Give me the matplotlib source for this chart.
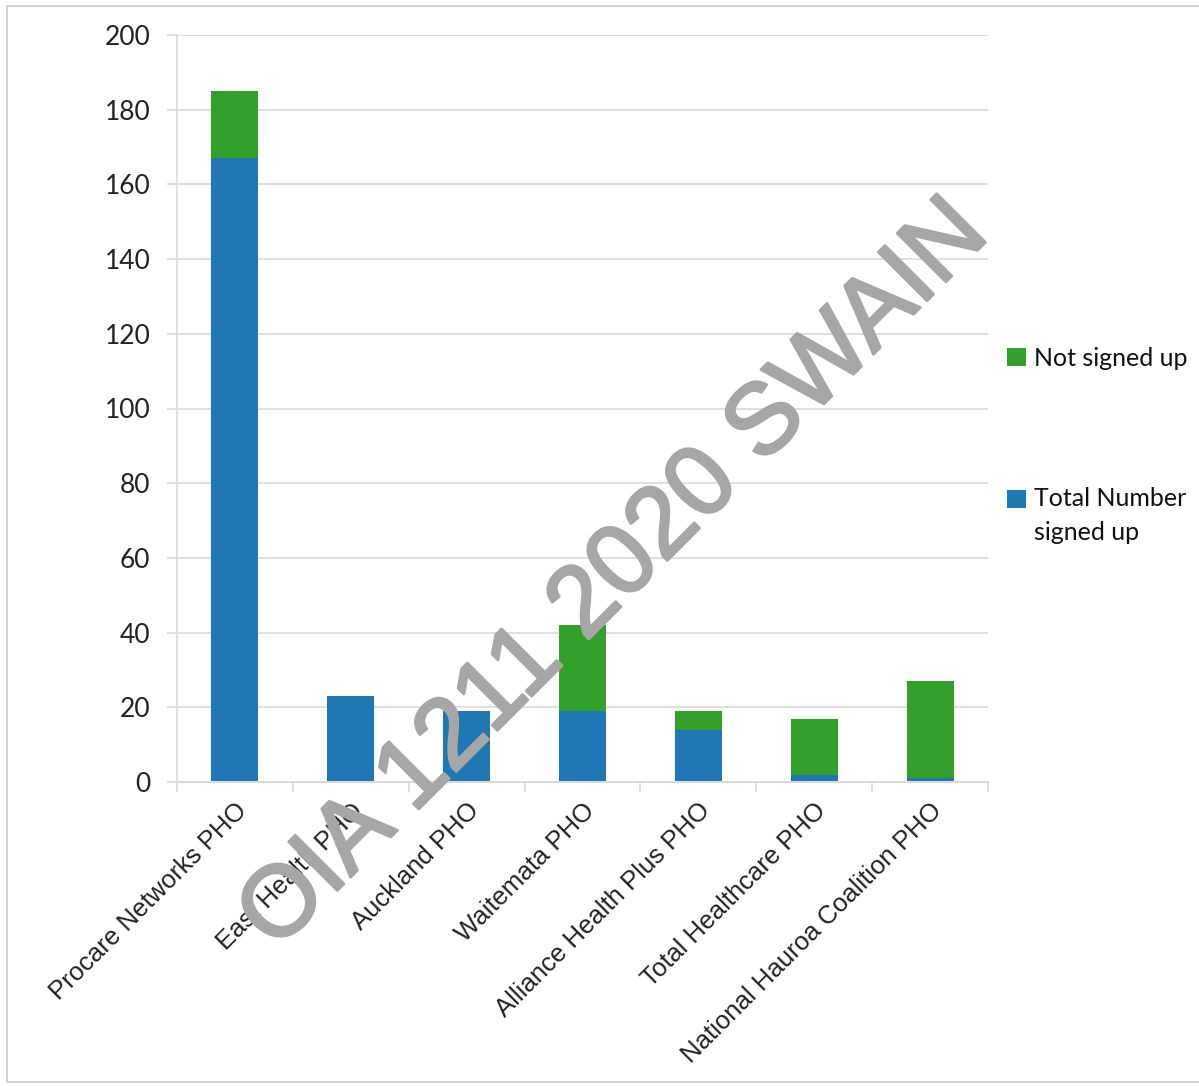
import numpy as np
import matplotlib
matplotlib.use("Agg")
import matplotlib.pyplot as plt
import matplotlib.patheffects as pe
from matplotlib.patches import Rectangle

# data
phos = ["Procare Networks PHO", "East Health PHO", "Auckland PHO", "Waitemata PHO",
        "Alliance Health Plus PHO", "Total Healthcare PHO", "National Hauroa Coalition PHO"]
signed_up = [167, 23, 19, 19, 14, 2, 1]
not_signed_up = [18, 0, 0, 23, 5, 15, 26]

blue = "#1f77b4"
green = "#33a02c"
grid_col = "#d9d9d9"

fig = plt.figure(figsize=(11.99, 10.86), dpi=100)
ax = fig.add_axes([177/1199, 1-782/1086, (988-177)/1199, (782-35)/1086])

x = np.arange(len(phos))
w = 0.405
b1 = ax.bar(x, signed_up, w, color=blue, label="Total Number\nsigned up", zorder=2)
b2 = ax.bar(x, not_signed_up, w, bottom=signed_up, color=green, label="Not signed up", zorder=2)

ax.set_xlim(-0.5, len(phos) - 0.5)
ax.set_ylim(0, 200)
ax.set_yticks(np.arange(0, 201, 20))
ax.grid(axis="y", color=grid_col, linewidth=1.2, zorder=0)

for s in ["top", "right"]:
    ax.spines[s].set_visible(False)
ax.spines["left"].set_color(grid_col)
ax.spines["bottom"].set_color(grid_col)
ax.spines["left"].set_linewidth(1.2)
ax.spines["bottom"].set_linewidth(1.5)

# category ticks sit between the bars
ax.set_xticks(np.arange(-0.5, len(phos)), minor=False)
ax.set_xticklabels([])
ax.tick_params(axis="x", length=7, color=grid_col, width=1.2)
ax.set_xticks(x, minor=True)
ax.set_xticklabels(phos, minor=True, rotation=45, ha="right", rotation_mode="anchor",
                   fontsize=18.5, family="Liberation Sans", color="#222222")
ax.tick_params(axis="x", which="minor", length=0, pad=12)
ax.tick_params(axis="y", length=7, color=grid_col, width=1.2, pad=12, labelsize=19,
               labelcolor="#222222")
for t in ax.get_yticklabels():
    t.set_family("Lato")

leg = ax.legend(handles=[b2, b1], loc="upper left", bbox_to_anchor=(0.996, 0.613),
                frameon=False, handlelength=0.75, handleheight=0.75,
                handletextpad=0.3, labelspacing=4.7, prop={"family": "Lato", "size": 18})
for t in leg.get_texts():
    t.set_color("#111111")
    t.set_linespacing(1.55)
# marker of the two-line entry sits by the first line
h = leg.legend_handles[1]
h.set_y(h.get_y() + 12.5)

# watermark
fig.text(615/1199, 1-576/1086, "OIA 1211 2020 SWAIN", rotation=45, ha="center", va="center",
         rotation_mode="anchor", fontsize=72, family="Liberation Sans", color="#a6a6a6",
         zorder=5, path_effects=[pe.withStroke(linewidth=2, foreground="#a6a6a6")])

# outer frame
fig.patches.append(Rectangle((7/1199, 0.004), 1.2, 1-6/1086-0.004, transform=fig.transFigure,
                             fill=False, edgecolor="#c8c8c8", linewidth=1.2))

fig.savefig("out.png", dpi=100)
